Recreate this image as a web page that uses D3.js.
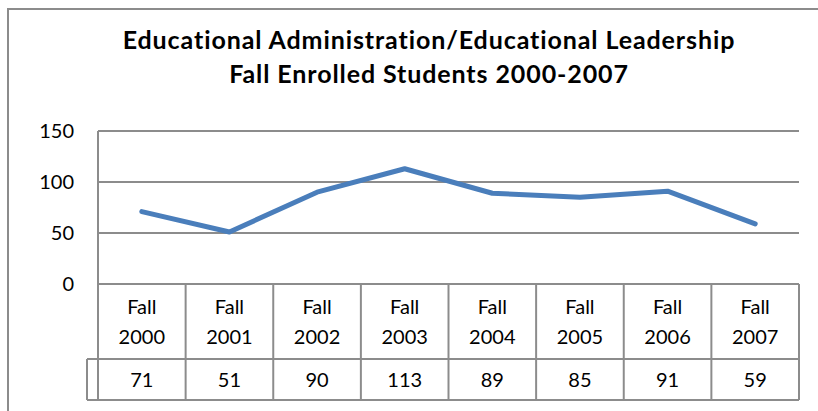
<!DOCTYPE html>
<html>
<head>
<meta charset="utf-8">
<script src="https://cdn.jsdelivr.net/npm/d3@7"></script>
<style>
  body { margin: 0; background: #fff; }
  svg { display: block; font-family: Lato, "Open Sans", sans-serif; }
</style>
</head>
<body>
<svg id="chart" width="818" height="411"></svg>
<script>
// data
const years = ['2000', '2001', '2002', '2003', '2004', '2005', '2006', '2007']
const categories = years.map(y => 'Fall ' + y)
const enrolled = [71, 51, 90, 113, 89, 85, 91, 59]
const yTicks = [0, 50, 100, 150]
const titleLines = ['Educational Administration/Educational Leadership', 'Fall Enrolled Students 2000-2007']

const svg = d3.select('#chart')
const gridColor = '#8c8c8c'

// outer chart border (right/bottom run off the picture)
svg.append('rect')
  .attr('x', 8).attr('y', 9)
  .attr('width', 830).attr('height', 420)
  .attr('fill', 'none')
  .attr('stroke', gridColor)
  .attr('stroke-width', 2)

// title
svg.append('g')
  .selectAll('text')
  .data(titleLines)
  .enter()
  .append('text')
  .attr('x', 429)
  .attr('y', (d, i) => 49 + i * 34)
  .attr('text-anchor', 'middle')
  .style('font-size', '25px')
  .style('font-weight', 'bold')
  .style('letter-spacing', '0.9px')
  .text(d => d)

const plotLeft = 98, plotRight = 799, plotTop = 131, plotBottom = 284
const x = d3.scaleBand().domain(categories).range([plotLeft, plotRight])
const y = d3.scaleLinear().domain([0, 150]).range([plotBottom, plotTop])

// horizontal grid
svg.append('g')
  .selectAll('line')
  .data(yTicks)
  .enter()
  .append('line')
  .attr('x1', plotLeft).attr('x2', plotRight)
  .attr('y1', d => y(d)).attr('y2', d => y(d))
  .attr('stroke', gridColor)
  .attr('stroke-width', 2)

// left edge of plot
svg.append('line')
  .attr('x1', plotLeft).attr('x2', plotLeft)
  .attr('y1', plotTop).attr('y2', plotBottom)
  .attr('stroke', gridColor)
  .attr('stroke-width', 2)

// y tick labels
svg.append('g')
  .selectAll('text')
  .data(yTicks)
  .enter()
  .append('text')
  .attr('x', 74)
  .attr('y', d => y(d) + 7)
  .attr('text-anchor', 'end')
  .style('font-size', '20px')
  .text(d => d)

// data table below the axis
const rowSplit = 359, tableBottom = 400, keyLeft = 87
const table = svg.append('g')
  .attr('fill', 'none')
  .attr('stroke', gridColor)
  .attr('stroke-width', 2)

table.selectAll('line.col')
  .data(categories.concat(['end']))
  .enter()
  .append('line')
  .attr('class', 'col')
  .attr('x1', d => d === 'end' ? plotRight : x(d))
  .attr('x2', d => d === 'end' ? plotRight : x(d))
  .attr('y1', plotBottom).attr('y2', tableBottom)

table.append('line')
  .attr('x1', keyLeft).attr('x2', plotRight)
  .attr('y1', rowSplit).attr('y2', rowSplit)
table.append('line')
  .attr('x1', keyLeft).attr('x2', plotRight)
  .attr('y1', tableBottom).attr('y2', tableBottom)
table.append('line')
  .attr('x1', keyLeft).attr('x2', keyLeft)
  .attr('y1', rowSplit).attr('y2', tableBottom)

const cell = svg.append('g')
  .selectAll('g')
  .data(categories)
  .enter()
  .append('g')
  .attr('transform', d => `translate(${x(d) + x.bandwidth() / 2},0)`)
  .style('font-size', '20px')
  .attr('text-anchor', 'middle')

cell.append('text').attr('y', 314).text('Fall')
cell.append('text').attr('y', 344).text((d, i) => years[i])
cell.append('text').attr('y', 387).text((d, i) => enrolled[i])

// the series
const line = d3.line()
  .x((d, i) => x(categories[i]) + x.bandwidth() / 2)
  .y(d => y(d))

svg.append('path')
  .datum(enrolled)
  .attr('d', line)
  .attr('fill', 'none')
  .attr('stroke', '#4a7ebb')
  .attr('stroke-width', 5)
  .attr('stroke-linecap', 'round')
  .attr('stroke-linejoin', 'round')
</script>
</body>
</html>
